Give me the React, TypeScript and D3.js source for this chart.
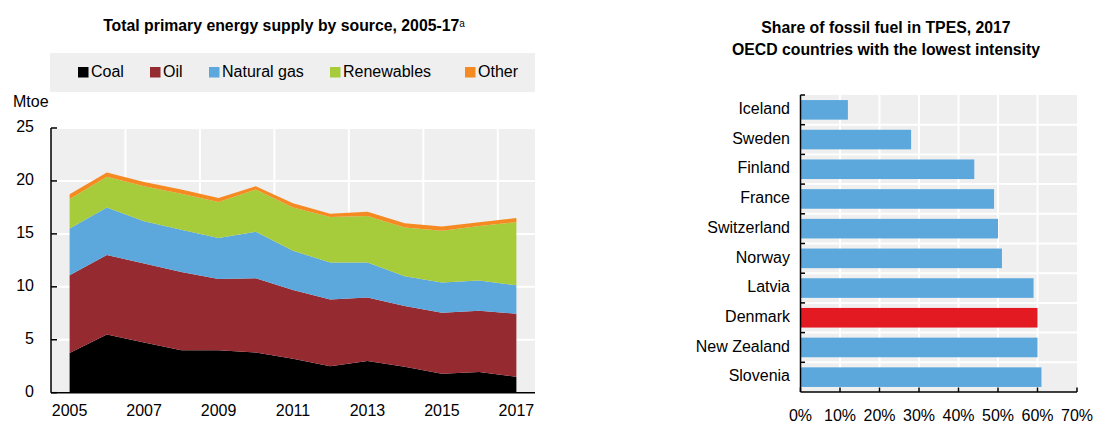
import React from "react";
import * as d3 from "d3";

const years = [2005, 2006, 2007, 2008, 2009, 2010, 2011, 2012, 2013, 2014, 2015, 2016, 2017];
const coal = [3.75, 5.5, 4.75, 4.0, 4.0, 3.8, 3.2, 2.5, 3.0, 2.45, 1.8, 1.95, 1.5];
const oil = [7.35, 7.5, 7.45, 7.4, 6.75, 7.0, 6.5, 6.3, 6.0, 5.75, 5.75, 5.8, 5.95];
const naturalGas = [4.4, 4.5, 4.0, 4.0, 3.85, 4.4, 3.7, 3.5, 3.3, 2.8, 2.85, 2.85, 2.7];
const renewables = [2.8, 2.9, 3.3, 3.4, 3.4, 4.0, 4.1, 4.3, 4.4, 4.6, 4.9, 5.15, 5.95];
const other = [0.45, 0.4, 0.4, 0.4, 0.4, 0.3, 0.4, 0.3, 0.4, 0.4, 0.4, 0.35, 0.4];
const seriesNames = ["Coal", "Oil", "Natural gas", "Renewables", "Other"];
const seriesColors = ["#000000", "#962a31", "#5ca8dd", "#a7cc3b", "#f58a23"];
const yTicks = [0, 5, 10, 15, 20, 25];
const xLabelYears = [2005, 2007, 2009, 2011, 2013, 2015, 2017];

const countries = ["Iceland", "Sweden", "Finland", "France", "Switzerland", "Norway", "Latvia", "Denmark", "New Zealand", "Slovenia"];
const fossilShare = [12, 28, 44, 49, 50, 51, 59, 60, 60, 61];
const highlight = "Denmark";
const pctTicks = [0, 10, 20, 30, 40, 50, 60, 70];

const FONT = "'Liberation Sans', Arial, sans-serif";
const GRAY = "#efefef";

export default function App() {
  // Left chart
  const x = d3.scaleBand<number>().domain(years).range([51, 535]).padding(0);
  const cx = (yr: number) => (x(yr) as number) + x.bandwidth() / 2;
  const y = d3.scaleLinear().domain([0, 25]).range([392.7, 128]);
  const rows = years.map((yr, i) => ({
    year: yr,
    Coal: coal[i],
    Oil: oil[i],
    "Natural gas": naturalGas[i],
    Renewables: renewables[i],
    Other: other[i],
  }));
  const stacked = d3.stack<any>().keys(seriesNames)(rows);
  const area = d3
    .area<any>()
    .x((d) => cx(d.data.year))
    .y0((d) => y(d[0]))
    .y1((d) => y(d[1]));

  // Right chart
  const bx = d3.scaleLinear().domain([0, 70]).range([800.5, 1077]);
  const by = d3.scaleBand<string>().domain(countries).range([95, 392]).paddingInner(0.34).paddingOuter(0.17);
  const step = by.step();

  const legendX = [78, 150, 209, 330, 465];

  return (
    <svg width={1094} height={423} style={{ position: "absolute", left: 0, top: 0 }} fontFamily={FONT}>
      <rect width={1094} height={423} fill="#fff" />
      {/* Left title */}
      <text x={284} y={31} textAnchor="middle" fontSize={15.8} fontWeight="bold" fill="#000">
        Total primary energy supply by source, 2005-17
        <tspan fontSize={10} fontWeight="normal" dy={-4}>a</tspan>
      </text>
      {/* Legend */}
      <rect x={50} y={53} width={485} height={39} fill={GRAY} />
      {seriesNames.map((s, i) => (
        <g key={s}>
          <rect x={legendX[i]} y={67} width={10.5} height={10.5} fill={seriesColors[i]} />
          <text x={legendX[i] + 13} y={72.5} dominantBaseline="middle" fontSize={16} fill="#000">
            {s}
          </text>
        </g>
      ))}
      {/* Plot background */}
      <rect x={51} y={128} width={484} height={264.7} fill={GRAY} />
      {yTicks.slice(1).map((t) => (
        <line key={t} x1={51} x2={535} y1={y(t)} y2={y(t)} stroke="#fff" strokeWidth={2} />
      ))}
      {xLabelYears.slice(1).map((yr) => (
        <line key={yr} x1={x(yr)} x2={x(yr)} y1={128} y2={392.7} stroke="#fff" strokeWidth={2} />
      ))}
      {stacked.map((s, i) => (
        <path key={s.key} d={area(s as any) || ""} fill={seriesColors[i]} />
      ))}
      {/* Axes */}
      <line x1={51} x2={51} y1={128} y2={392.7} stroke="#000" strokeWidth={1.5} />
      <line x1={51} x2={535} y1={392.7} y2={392.7} stroke="#000" strokeWidth={1.5} />
      {yTicks.map((t) => (
        <g key={t}>
          <line x1={51} x2={57} y1={y(t)} y2={y(t)} stroke="#000" strokeWidth={1.5} />
          <text x={34} y={y(t)} textAnchor="end" dominantBaseline="middle" fontSize={16} fill="#000">
            {t}
          </text>
        </g>
      ))}
      <text x={13} y={103} dominantBaseline="middle" fontSize={16} fill="#000">Mtoe</text>
      {xLabelYears.map((yr) => (
        <text key={yr} x={cx(yr)} y={416} textAnchor="middle" fontSize={16} fill="#000">
          {yr}
        </text>
      ))}

      {/* Right title */}
      <text x={886} y={33} textAnchor="middle" fontSize={15.8} fontWeight="bold" fill="#000">
        Share of fossil fuel in TPES, 2017
      </text>
      <text x={886} y={55} textAnchor="middle" fontSize={15.8} fontWeight="bold" fill="#000">
        OECD countries with the lowest intensity
      </text>
      <rect x={800.5} y={95} width={276.5} height={297} fill={GRAY} />
      {pctTicks.slice(1, -1).map((t) => (
        <line key={t} x1={bx(t)} x2={bx(t)} y1={95} y2={392} stroke="#fff" strokeWidth={2} />
      ))}
      {countries.slice(1).map((c, i) => (
        <line key={c} x1={800.5} x2={1077} y1={95 + (i + 1) * step} y2={95 + (i + 1) * step} stroke="#fff" strokeWidth={2} />
      ))}
      {countries.map((c, i) => (
        <g key={c}>
          <rect
            x={bx(0)}
            y={by(c)}
            width={bx(fossilShare[i]) - bx(0)}
            height={by.bandwidth()}
            fill={c === highlight ? "#e31a22" : "#5ca8dd"}
          />
          <text x={790} y={(by(c) as number) + by.bandwidth() / 2} textAnchor="end" dominantBaseline="middle" fontSize={16} fill="#000">
            {c}
          </text>
        </g>
      ))}
      <line x1={800.5} x2={800.5} y1={95} y2={392} stroke="#000" strokeWidth={1.5} />
      {countries.map((c, i) => (
        <line key={c} x1={800.5} x2={805} y1={95 + i * step} y2={95 + i * step} stroke="#000" strokeWidth={1.5} />
      ))}
      <line x1={800.5} x2={1077} y1={392} y2={392} stroke="#000" strokeWidth={1.5} />
      {pctTicks.map((t) => (
        <g key={t}>
          <line x1={bx(t)} x2={bx(t)} y1={392} y2={387.5} stroke="#000" strokeWidth={1.5} />
          <text x={bx(t)} y={421} textAnchor="middle" fontSize={16} fill="#000">
            {t}%
          </text>
        </g>
      ))}
    </svg>
  );
}
